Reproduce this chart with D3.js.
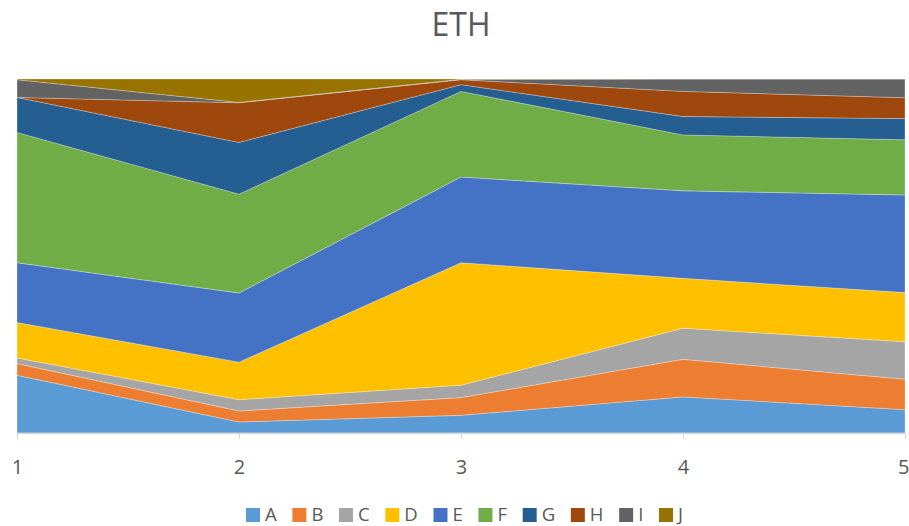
<!DOCTYPE html>
<html>
<head>
<meta charset="utf-8">
<script src="https://cdn.jsdelivr.net/npm/d3@7"></script>
<style>
  html, body { margin: 0; padding: 0; background: #fff; }
  svg { display: block; font-family: "Open Sans", "Liberation Sans", sans-serif; }
</style>
</head>
<body>
<svg id="chart" width="909" height="526"></svg>
<script>
// Categories along the x axis
const categories = [1, 2, 3, 4, 5];
const seriesNames = ["A", "B", "C", "D", "E", "F", "G", "H", "I", "J"];

// Share of each series per category (percent)
const A = [16.3, 3.1, 5.0, 10.2, 6.6];
const B = [3.3, 3.1, 5.0, 10.6, 8.6];
const C = [1.6, 3.2, 3.5, 8.8, 10.6];
const D = [10.0, 10.6, 34.6, 14.1, 13.9];
const E = [16.9, 19.5, 24.2, 24.7, 27.6];
const F = [36.8, 27.9, 24.2, 15.8, 15.6];
const G = [9.9, 14.6, 1.9, 5.2, 6.0];
const H = [0.0, 11.2, 1.4, 7.1, 5.9];
const I = [5.0, 0.1, 0.1, 3.5, 5.3];
const J = [0.2, 6.6, 0.1, 0.0, 0.0];

const colors = ["#5B9BD5", "#ED7D31", "#A5A5A5", "#FFC000", "#4472C4",
                "#70AD47", "#255E91", "#9E480E", "#636363", "#997300"];

const values = { A, B, C, D, E, F, G, H, I, J };
const rows = categories.map((c, i) => {
  const r = { cat: c };
  seriesNames.forEach(s => { r[s] = values[s][i]; });
  return r;
});

const svg = d3.select("#chart");
const plotLeft = 17, plotRight = 905, plotTop = 79, plotBottom = 433;

const x = d3.scalePoint().domain(categories).range([plotLeft, plotRight]);
const y = d3.scaleLinear().domain([0, 1]).range([plotBottom, plotTop]);

const stack = d3.stack().keys(seriesNames).offset(d3.stackOffsetExpand);
const layers = stack(rows);

const area = d3.area()
  .x(d => x(d.data.cat))
  .y0(d => y(d[0]))
  .y1(d => y(d[1]));

svg.append("g")
  .selectAll("path")
  .data(layers)
  .join("path")
  .attr("d", area)
  .attr("fill", (d, i) => colors[i])
  .attr("stroke", "#ffffff")
  .attr("stroke-opacity", 0.45)
  .attr("stroke-width", 0.6);

// Category axis
const axis = svg.append("g").attr("transform", `translate(0,${plotBottom})`)
  .call(d3.axisBottom(x).tickSize(6).tickPadding(21).tickSizeOuter(0));
axis.select(".domain").attr("stroke", "#D9D9D9").attr("stroke-width", 1.3);
axis.selectAll(".tick line").attr("stroke", "#D9D9D9").attr("stroke-width", 1.3);
axis.selectAll(".tick text")
  .attr("fill", "#595959")
  .style("font-size", "20px")
  .style("font-family", "'Open Sans', 'Liberation Sans', sans-serif");
// keep the last label inside the right edge
axis.selectAll(".tick text").filter(d => d === categories[categories.length - 1])
  .attr("text-anchor", "end").attr("dx", 4);

// Title
svg.append("text")
  .attr("x", 461).attr("y", 36)
  .attr("text-anchor", "middle")
  .attr("fill", "#595959")
  .style("font-size", "32px")
  .text("ETH");

// Legend: squares with labels, spread between the first and last swatch
const legendStart = 246, legendLastSwatch = 659, swatch = 14, labelGap = 5;
const legend = svg.append("g").attr("transform", "translate(0,521)");
const entries = seriesNames.map((s, i) => {
  const g = legend.append("g");
  g.append("rect").attr("x", 0).attr("y", -13).attr("width", swatch).attr("height", swatch)
    .attr("fill", colors[i]);
  const t = g.append("text").attr("x", swatch + labelGap).attr("y", 0)
    .attr("fill", "#595959").style("font-size", "18.5px").text(s);
  return { g, w: swatch + labelGap + t.node().getComputedTextLength() };
});
const widthsBeforeLast = d3.sum(entries.slice(0, -1), e => e.w);
const gap = (legendLastSwatch - legendStart - widthsBeforeLast) / (entries.length - 1);
let cx = legendStart;
entries.forEach(e => {
  e.g.attr("transform", `translate(${cx},0)`);
  cx += e.w + gap;
});
</script>
</body>
</html>
